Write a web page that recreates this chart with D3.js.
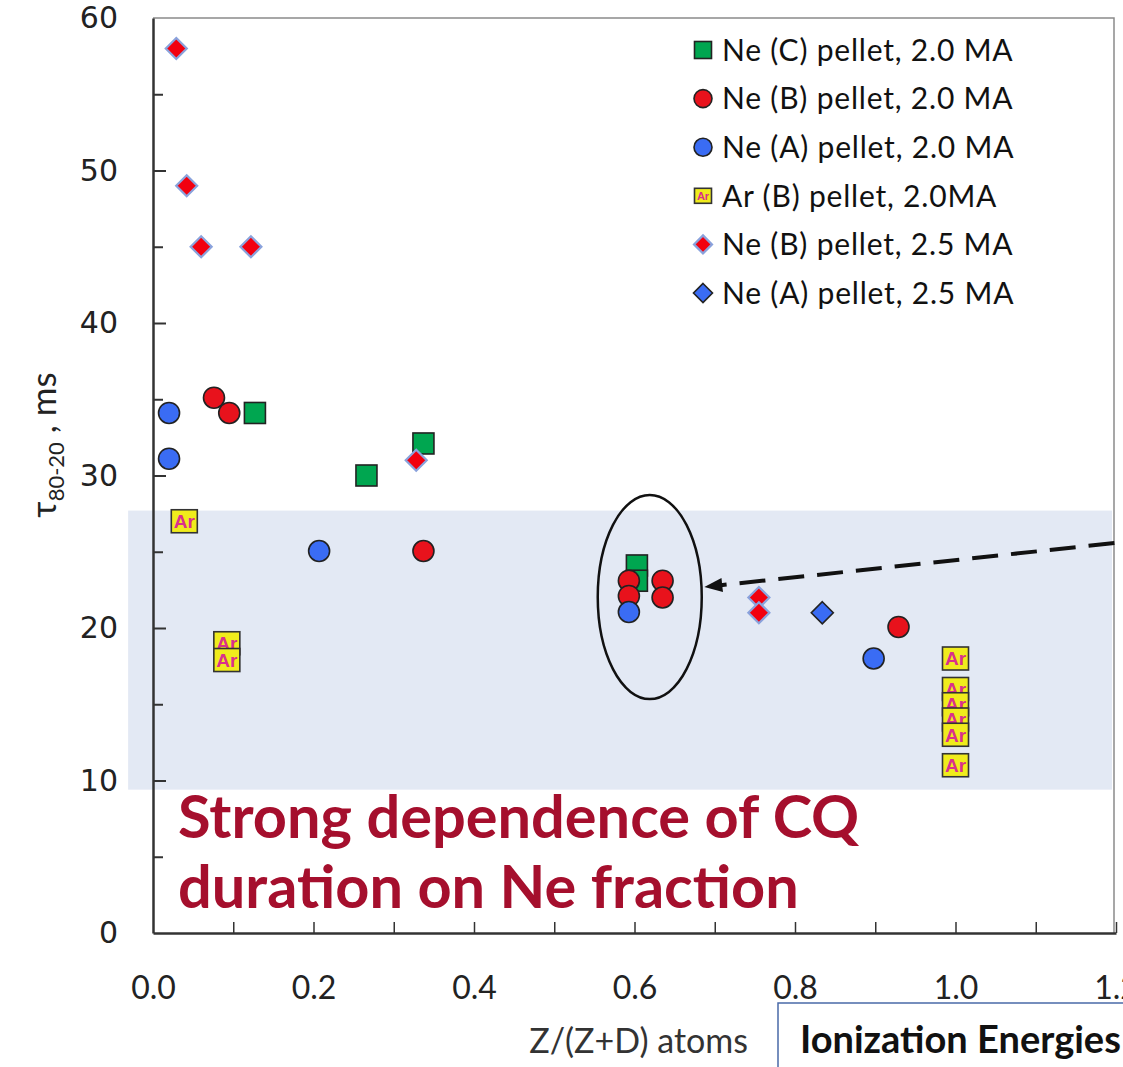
<!DOCTYPE html>
<html>
<head>
<meta charset="utf-8">
<script src="https://cdn.jsdelivr.net/npm/d3@7"></script>
<style>
  html, body { margin: 0; padding: 0; background: #fff; }
  svg { display: block; }
</style>
</head>
<body>
<svg id="chart" width="1123" height="1067"></svg>
<script>
// Current-quench duration (tau 80-20) versus impurity fraction Z/(Z+D)
// Each series: [fraction, tau in ms]
const neC_2MA = [[0.127, 34.1], [0.337, 32.1], [0.266, 30.0], [0.603, 24.1], [0.603, 23.1]];
const neB_2MA = [[0.076, 35.1], [0.095, 34.1], [0.337, 25.05], [0.593, 23.1], [0.593, 22.1],
                 [0.635, 23.1], [0.635, 22.0], [0.929, 20.07]];
const neA_2MA = [[0.020, 34.1], [0.020, 31.1], [0.207, 25.05], [0.593, 21.05], [0.898, 18.0]];
const arB_2MA = [[0.039, 27.0], [0.092, 19.0], [0.092, 17.9], [1.0, 18.0], [1.0, 16.0],
                 [1.0, 15.0], [1.0, 14.0], [1.0, 13.0], [1.0, 11.0]];
const neB_25MA = [[0.029, 58.0], [0.042, 49.0], [0.060, 45.0], [0.122, 45.0], [0.328, 31.0],
                  [0.755, 22.0], [0.755, 21.0]];
const neA_25MA = [[0.834, 21.0]];

const legendLabels = ["Ne (C) pellet, 2.0 MA", "Ne (B) pellet, 2.0 MA", "Ne (A) pellet, 2.0 MA",
                      "Ar (B) pellet, 2.0MA", "Ne (B) pellet, 2.5 MA", "Ne (A) pellet, 2.5 MA"];
const xTicks = [0, 0.1, 0.2, 0.3, 0.4, 0.5, 0.6, 0.7, 0.8, 0.9, 1.0, 1.1, 1.2];
const yTicks = [0, 5, 10, 15, 20, 25, 30, 35, 40, 45, 50, 55, 60];

// Highlighted range of typical CQ durations
const bandY = [9.4, 27.7];
const bandX = [-0.031, 1.195];

const svg = d3.select("#chart");
const x = d3.scaleLinear().domain([0, 1.2]).range([153, 1116]);
const y = d3.scaleLinear().domain([0, 60]).range([933, 18]);

// shaded band
svg.append("rect")
  .attr("x", x(bandX[0])).attr("y", y(bandY[1]))
  .attr("width", x(bandX[1]) - x(bandX[0]))
  .attr("height", y(bandY[0]) - y(bandY[1]))
  .attr("fill", "#e3e9f4");

// frame (top and right)
svg.append("path")
  .attr("d", `M${x(0)},${y(60)} H${x(1.2) - 2} V${y(0)}`)
  .attr("fill", "none").attr("stroke", "#8a8a8a").attr("stroke-width", 1.5);

// y axis
const yAxis = svg.append("g").attr("transform", `translate(${x(0)},0)`)
  .call(d3.axisLeft(y).tickValues(yTicks).tickSizeInner(-11).tickSizeOuter(0).tickPadding(35)
    .tickFormat(d => d % 10 === 0 ? d3.format("d")(d) : ""));
yAxis.select(".domain").attr("stroke", "#333").attr("stroke-width", 2.5);
yAxis.selectAll(".tick line").attr("stroke", "#333").attr("stroke-width", 2)
  .attr("x2", d => d % 10 === 0 ? 13 : 10);
yAxis.selectAll(".tick text").attr("font-family", "DejaVu Sans").attr("font-size", 30)
  .attr("fill", "#222");
yAxis.selectAll(".tick").filter(d => d === 0 || d === 60).select("line").remove();

// x axis
const xAxis = svg.append("g").attr("transform", `translate(0,${y(0)})`)
  .call(d3.axisBottom(x).tickValues(xTicks).tickSizeInner(-11).tickSizeOuter(0).tickPadding(43)
    .tickFormat(d => Math.round(d * 10) % 2 === 0 ? d3.format(".1f")(d) : ""));
xAxis.select(".domain").attr("stroke", "#333").attr("stroke-width", 2.5);
xAxis.selectAll(".tick line").attr("stroke", "#333").attr("stroke-width", 1.5);
xAxis.selectAll(".tick").filter(d => d === 0).select("line").remove();
xAxis.selectAll(".tick text").attr("font-family", "Lato").attr("font-size", 32).attr("fill", "#222");

// axis titles
svg.append("text")
  .attr("x", 748).attr("y", 1053).attr("text-anchor", "end")
  .attr("font-family", "Lato").attr("font-size", 34).attr("fill", "#333")
  .text("Z/(Z+D) atoms");

const yt = svg.append("text")
  .attr("transform", "translate(56,445) rotate(-90)")
  .attr("text-anchor", "middle")
  .attr("font-family", "Lato").attr("font-size", 35).attr("fill", "#222");
yt.append("tspan").text("τ");
yt.append("tspan").attr("font-size", 22).attr("dy", 8).text("80-20");
yt.append("tspan").attr("dy", -8).text(" , ms");

// marker drawing helpers
const diamond = r => `M0,${-r} L${r},0 L0,${r} L${-r},0 Z`;

function drawSquare(g, fill, s) {
  g.append("rect").attr("x", -s / 2).attr("y", -s / 2).attr("width", s).attr("height", s)
    .attr("fill", fill).attr("stroke", "#222").attr("stroke-width", 1.6);
}
function drawCircle(g, fill, r) {
  g.append("circle").attr("r", r).attr("fill", fill).attr("stroke", "#222").attr("stroke-width", 1.6);
}
function drawAr(g, w, h, fs) {
  g.append("rect").attr("x", -w / 2).attr("y", -h / 2).attr("width", w).attr("height", h)
    .attr("fill", "#f0ec1c").attr("stroke", "#333").attr("stroke-width", 1.6);
  g.append("text").attr("text-anchor", "middle").attr("dy", "0.36em")
    .attr("font-family", "Liberation Sans").attr("font-weight", "bold")
    .attr("font-size", fs).attr("fill", "#d9308c").text("Ar");
}
function drawDiamondRed(g, r) {
  g.append("path").attr("d", diamond(r)).attr("fill", "#f2000f")
    .attr("stroke", "#8aa2dc").attr("stroke-width", 2.2);
}
function drawDiamondBlue(g, r) {
  g.append("path").attr("d", diamond(r)).attr("fill", "#3a6cf4")
    .attr("stroke", "#222").attr("stroke-width", 1.6);
}

const series = [
  { data: neC_2MA, draw: (g, big) => drawSquare(g, "#00a650", big ? 21 : 17) },
  { data: neB_2MA, draw: (g, big) => drawCircle(g, "#e8121c", big ? 10.5 : 9) },
  { data: neA_2MA, draw: (g, big) => drawCircle(g, "#3a6cf4", big ? 10.5 : 9) },
  { data: arB_2MA, draw: (g, big) => big ? drawAr(g, 26, 23, 19) : drawAr(g, 17, 15, 11) },
  { data: neB_25MA, draw: (g, big) => drawDiamondRed(g, big ? 10.5 : 9) },
  { data: neA_25MA, draw: (g, big) => drawDiamondBlue(g, big ? 11 : 9.5) }
];

// points
const pts = svg.append("g");
series.forEach(s => {
  s.data.forEach(p => {
    const g = pts.append("g").attr("transform", `translate(${x(p[0])},${y(p[1])})`);
    s.draw(g, true);
  });
});

// legend
const lg = svg.append("g");
legendLabels.forEach((lab, i) => {
  const cy = 50 + i * 48.6;
  const g = lg.append("g").attr("transform", `translate(703,${cy})`);
  series[i].draw(g, false);
  lg.append("text").attr("x", 722).attr("y", cy).attr("dy", "0.36em")
    .attr("font-family", "Lato").attr("font-size", 30).attr("letter-spacing", 0.8)
    .attr("fill", "#111").text(lab);
});

// ellipse around the cluster near 0.6 and the dashed pointer
const ec = [0.619, 22.03];
svg.append("ellipse")
  .attr("cx", x(ec[0])).attr("cy", y(ec[1]))
  .attr("rx", x(0.0648) - x(0)).attr("ry", y(0) - y(6.69))
  .attr("fill", "none").attr("stroke", "#111").attr("stroke-width", 2.5);

const a0 = [1.198, 25.57], a1 = [0.687, 22.69];
const ax0 = x(a0[0]), ay0 = y(a0[1]), ax1 = x(a1[0]), ay1 = y(a1[1]);
const ang = Math.atan2(ay1 - ay0, ax1 - ax0);
const headLen = 18;
svg.append("line")
  .attr("x1", ax0).attr("y1", ay0)
  .attr("x2", ax1 - headLen * Math.cos(ang) * 0.8).attr("y2", ay1 - headLen * Math.sin(ang) * 0.8)
  .attr("stroke", "#111").attr("stroke-width", 4).attr("stroke-dasharray", "26,13");
const hw = 7;
const bx = ax1 - headLen * Math.cos(ang), by = ay1 - headLen * Math.sin(ang);
svg.append("path")
  .attr("d", `M${ax1},${ay1} L${bx + hw * Math.sin(ang)},${by - hw * Math.cos(ang)} L${bx - hw * Math.sin(ang)},${by + hw * Math.cos(ang)} Z`)
  .attr("fill", "#111");

// annotation text
const note = svg.append("text")
  .attr("font-family", "Lato").attr("font-weight", "bold").attr("font-size", 59.5)
  .attr("fill", "#a50f2d");
note.append("tspan").attr("x", 178).attr("y", 838).text("Strong dependence of CQ");
note.append("tspan").attr("x", 178).attr("y", 908).text("duration on Ne fraction");

// box at lower right
svg.append("path")
  .attr("d", "M778,1067 V1003 H1130")
  .attr("fill", "none").attr("stroke", "#4a6aa8").attr("stroke-width", 1.5);
svg.append("text")
  .attr("x", 800).attr("y", 1053)
  .attr("font-family", "Lato").attr("font-weight", "bold").attr("font-size", 38).attr("fill", "#111")
  .text("Ionization Energies");
</script>
</body>
</html>
